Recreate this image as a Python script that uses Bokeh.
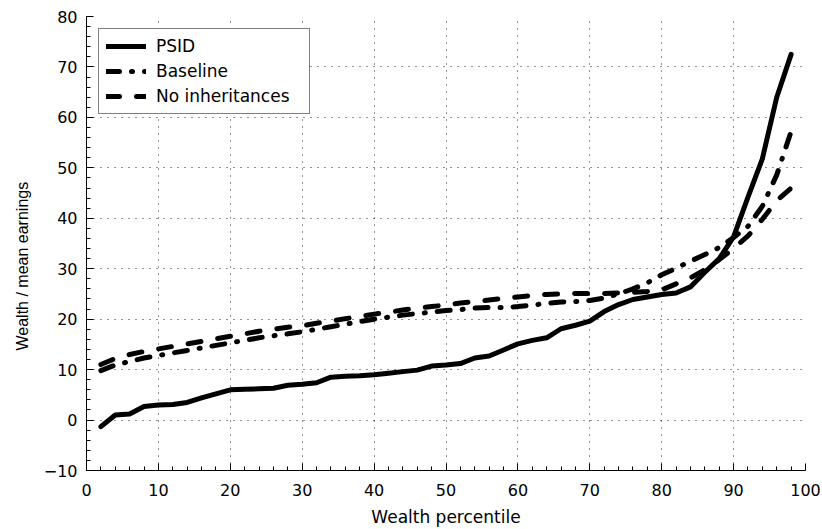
from bokeh.plotting import figure
from bokeh.models import Legend, LegendItem, Range1d, SingleIntervalTicker, Title
from bokeh.embed import file_html
from bokeh.resources import INLINE

# Wealth percentiles (every 2nd percentile)
percentile = list(range(2, 100, 2))

# Wealth relative to mean earnings
psid = [-1.3, 1.0, 1.2, 2.7, 3.0, 3.1, 3.5, 4.4, 5.2, 6.0,
        6.1, 6.2, 6.3, 6.9, 7.1, 7.4, 8.5, 8.7, 8.8, 9.0,
        9.3, 9.6, 9.9, 10.7, 10.9, 11.2, 12.3, 12.7, 13.9, 15.1,
        15.8, 16.3, 18.1, 18.8, 19.6, 21.5, 22.9, 23.9, 24.4, 24.9,
        25.2, 26.4, 29.3, 32.0, 36.3, 44.2, 51.8, 64.0, 72.5]

baseline = [9.8, 10.9, 11.6, 12.3, 12.8, 13.3, 13.8, 14.3, 14.8, 15.3,
            15.8, 16.3, 16.7, 17.1, 17.5, 18.0, 18.5, 19.0, 19.5, 20.0,
            20.4, 20.8, 21.1, 21.4, 21.7, 21.9, 22.2, 22.3, 22.3, 22.5,
            22.8, 23.1, 23.4, 23.5, 23.7, 24.2, 25.0, 26.0, 27.2, 28.8,
            30.1, 31.5, 32.8, 34.2, 36.2, 38.4, 42.4, 48.6, 57.2]

no_inheritances = [11.0, 12.2, 13.0, 13.6, 14.1, 14.6, 15.1, 15.6, 16.1, 16.6,
                   17.1, 17.6, 18.0, 18.4, 18.7, 19.2, 19.6, 20.1, 20.5, 21.0,
                   21.4, 21.8, 22.2, 22.5, 22.8, 23.2, 23.5, 23.8, 24.1, 24.4,
                   24.7, 24.9, 25.0, 25.1, 25.1, 25.1, 25.2, 25.3, 25.5, 25.8,
                   27.0, 28.2, 29.8, 31.8, 34.0, 36.5, 39.8, 43.5, 46.0]

FONT = "DejaVu Sans"

p = figure(width=822, height=529, output_backend="svg", toolbar_location=None,
           x_range=Range1d(0, 100), y_range=Range1d(-10, 80),
           min_border_left=86, min_border_right=17,
           min_border_top=16, min_border_bottom=59)
p.outline_line_color = None
p.background_fill_color = "white"
p.border_fill_color = "white"

common = dict(line_color="black", line_width=5, line_cap="round", line_join="round")
r_psid = p.line(percentile, psid, **common)
r_base = p.line(percentile, baseline, line_dash="13 12 1 12", **common)
r_noinh = p.line(percentile, no_inheritances, line_dash="13 17", **common)

for axis in (p.xaxis[0], p.yaxis[0]):
    axis.ticker = SingleIntervalTicker(interval=10, num_minor_ticks=5)
    axis.axis_line_color = "black"
    axis.axis_line_width = 1
    axis.major_tick_in = 7
    axis.major_tick_out = 0
    axis.minor_tick_in = 4
    axis.minor_tick_out = 0
    axis.major_tick_line_color = "black"
    axis.minor_tick_line_color = "black"
    axis.major_label_text_font = FONT
    axis.major_label_text_font_size = "16px"
    axis.major_label_text_color = "black"
    axis.axis_label_text_font = FONT
    axis.axis_label_text_font_size = "17px"
    axis.axis_label_text_font_style = "normal"
    axis.axis_label_text_color = "black"

p.xaxis.axis_label = "Wealth percentile"
p.xaxis.major_label_standoff = 13
p.yaxis.major_label_standoff = 9
p.xaxis.axis_label_standoff = 8

# y-axis title, set a little below the middle of the frame
p.add_layout(Title(text="Wealth / mean earnings", align="left", offset=120,
                   standoff=20, text_font="Liberation Sans",
                   text_font_size="16px", text_font_style="normal",
                   text_color="black"), "left")

for grid in (p.xgrid[0], p.ygrid[0]):
    grid.grid_line_color = "black"
    grid.grid_line_alpha = 0.85
    grid.grid_line_dash = "1 6"
    grid.grid_line_width = 1

legend = Legend(items=[LegendItem(label="PSID", renderers=[r_psid]),
                       LegendItem(label="Baseline", renderers=[r_base]),
                       LegendItem(label="No inheritances", renderers=[r_noinh])],
                location="top_left")
legend.margin = 12
legend.padding = 7
legend.spacing = 5
legend.glyph_width = 40
legend.glyph_height = 18
legend.label_height = 18
legend.label_width = 146
legend.label_standoff = 10
legend.label_text_font = FONT
legend.label_text_font_size = "17px"
legend.label_text_color = "black"
legend.border_line_color = "black"
legend.border_line_width = 1
legend.background_fill_color = "white"
legend.background_fill_alpha = 1
p.add_layout(legend)

open("out.html", "w").write(file_html(p, INLINE))
